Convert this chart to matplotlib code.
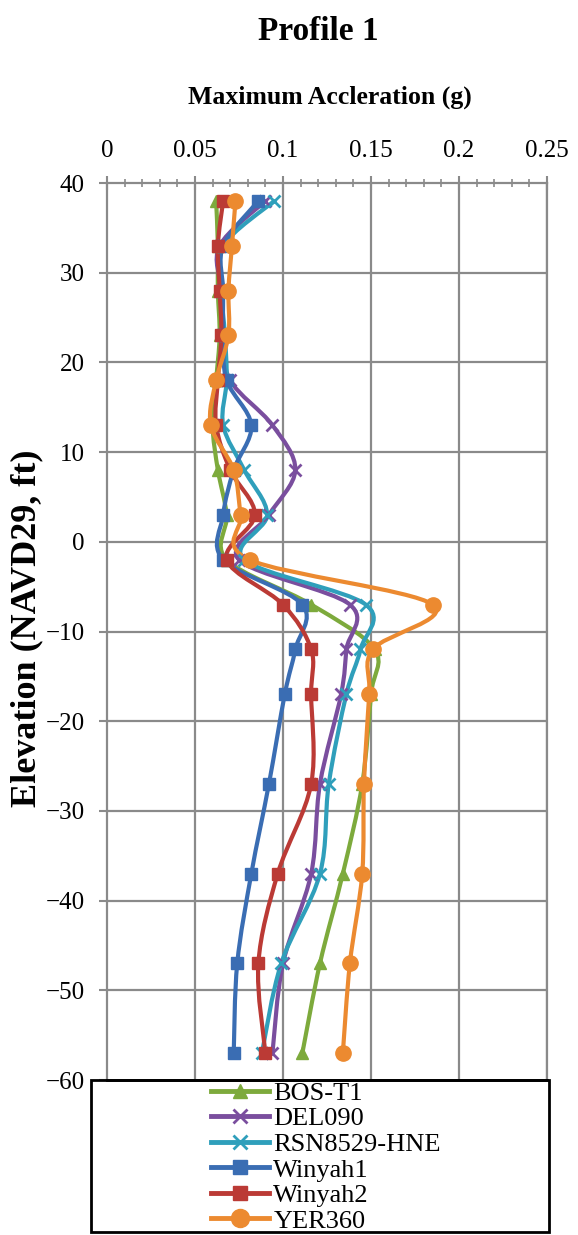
import numpy as np
import matplotlib.pyplot as plt
from matplotlib.path import Path
from matplotlib.patches import PathPatch, Rectangle
from matplotlib.lines import Line2D
from matplotlib.ticker import MultipleLocator

plt.rcParams['font.family'] = ['Liberation Serif', 'DejaVu Serif']

# Elevation of each output point (ft, NAVD29)
elevation = [38, 33, 28, 23, 18, 13, 8, 3, -2, -7, -12, -17, -27, -37, -47, -57]

# Peak acceleration profiles (g) for each input motion
bos_t1 = [0.062, 0.063, 0.063, 0.064, 0.062, 0.060, 0.063, 0.068, 0.068,
          0.116, 0.152, 0.150, 0.145, 0.134, 0.121, 0.111]
del090 = [0.090, 0.064, 0.065, 0.066, 0.070, 0.094, 0.107, 0.092, 0.075,
          0.138, 0.136, 0.133, 0.121, 0.116, 0.100, 0.094]
rsn8529 = [0.095, 0.066, 0.065, 0.067, 0.068, 0.066, 0.078, 0.091, 0.078,
           0.147, 0.144, 0.136, 0.126, 0.121, 0.099, 0.088]
winyah1 = [0.086, 0.066, 0.066, 0.066, 0.068, 0.082, 0.072, 0.066, 0.066,
           0.111, 0.107, 0.101, 0.092, 0.082, 0.074, 0.072]
winyah2 = [0.066, 0.063, 0.064, 0.065, 0.063, 0.062, 0.070, 0.084, 0.068,
           0.100, 0.116, 0.116, 0.116, 0.097, 0.086, 0.090]
yer360 = [0.073, 0.071, 0.069, 0.069, 0.062, 0.059, 0.072, 0.076, 0.081,
          0.185, 0.151, 0.149, 0.146, 0.145, 0.138, 0.134]

series = [
    ('BOS-T1', bos_t1, '#7DAA3C', '^', 8),
    ('DEL090', del090, '#7A4E9E', 'x', 8),
    ('RSN8529-HNE', rsn8529, '#2F9FBB', 'x', 8),
    ('Winyah1', winyah1, '#3A6DB3', 's', 8),
    ('Winyah2', winyah2, '#BB3A35', 's', 8),
    ('YER360', yer360, '#EC8A30', 'o', 11),
]


def smooth_path(x, y):
    # Catmull-Rom style cubic Bezier through the points, like a spreadsheet "smoothed line"
    pts = np.column_stack([x, y]).astype(float)
    n = len(pts)
    verts = [pts[0]]
    codes = [Path.MOVETO]
    for i in range(n - 1):
        p0 = pts[i - 1] if i > 0 else pts[i]
        p1 = pts[i]
        p2 = pts[i + 1]
        p3 = pts[i + 2] if i + 2 < n else pts[i + 1]
        c1 = p1 + (p2 - p0) / 6.0
        c2 = p2 - (p3 - p1) / 6.0
        verts += [c1, c2, p2]
        codes += [Path.CURVE4] * 3
    return Path(verts, codes)


fig = plt.figure(figsize=(5.78, 12.35), dpi=100)
ax = fig.add_axes([107 / 578, 1 - 1080 / 1235, 440 / 578, 897 / 1235])

ax.set_xlim(0, 0.25)
ax.set_ylim(-60, 40)

grid_c = '#8a8a8a'
for gx in [0.05, 0.1, 0.15, 0.2, 0.25]:
    ax.axvline(gx, color=grid_c, lw=1.6, zorder=0)
for gy in range(-50, 40, 10):
    ax.axhline(gy, color=grid_c, lw=1.6, zorder=0)

handles = []
for name, vals, col, mk, ms in series:
    ax.add_patch(PathPatch(smooth_path(vals, elevation), fill=False,
                           edgecolor=col, lw=3.0, zorder=2))
    mew = 2.0 if mk == 'x' else 1.0
    ax.plot(vals, elevation, ls='none', marker=mk, ms=ms, color=col,
            mec=col, mew=mew, zorder=3)
    handles.append(Line2D([], [], color=col, lw=3.5, marker=mk, ms=ms + 2,
                          mec=col, mew=mew))

ax.xaxis.tick_top()
ax.xaxis.set_minor_locator(MultipleLocator(0.01))
ax.yaxis.set_major_locator(MultipleLocator(10))
ax.set_xticks([0, 0.05, 0.1, 0.15, 0.2, 0.25])
ax.set_xticklabels(['0', '0.05', '0.1', '0.15', '0.2', '0.25'])
ax.tick_params(axis='x', which='major', direction='inout', length=10, width=1.5,
               color=grid_c, labelsize=18, pad=10)
ax.tick_params(axis='x', which='minor', direction='inout', length=6, width=1.2,
               color=grid_c)
ax.tick_params(axis='y', which='major', direction='out', length=6, width=1.5,
               color=grid_c, labelsize=18, pad=10)

for side in ['top', 'left', 'right']:
    ax.spines[side].set_color(grid_c)
    ax.spines[side].set_linewidth(1.6)
ax.spines['bottom'].set_color('black')
ax.spines['bottom'].set_linewidth(2.0)

ax.text(0.507, 1.096, 'Maximum Accleration (g)', transform=ax.transAxes,
        ha='center', va='center', fontsize=18.5, fontweight='bold')
ax.text(-0.182, 0.504, 'Elevation (NAVD29, ft)', transform=ax.transAxes,
        ha='center', va='center', rotation=90, fontsize=26, fontweight='bold')

fig.text(318 / 578, 1 - 31 / 1235, 'Profile 1', ha='center', va='center',
         fontsize=24, fontweight='bold')

# legend box under the plot
fig.add_artist(Rectangle((91 / 578, 3 / 1235), 458 / 578, 152 / 1235,
                         transform=fig.transFigure, fill=False,
                         edgecolor='black', lw=2.0))
fig.legend(handles, [s[0] for s in series], loc='upper left',
           bbox_to_anchor=(210 / 578, 1 - 1080 / 1235), frameon=False,
           fontsize=19, handlelength=2.2, handletextpad=0.15,
           labelspacing=0.08, borderaxespad=0.0, borderpad=0.05)

fig.savefig('out.png', dpi=100)
